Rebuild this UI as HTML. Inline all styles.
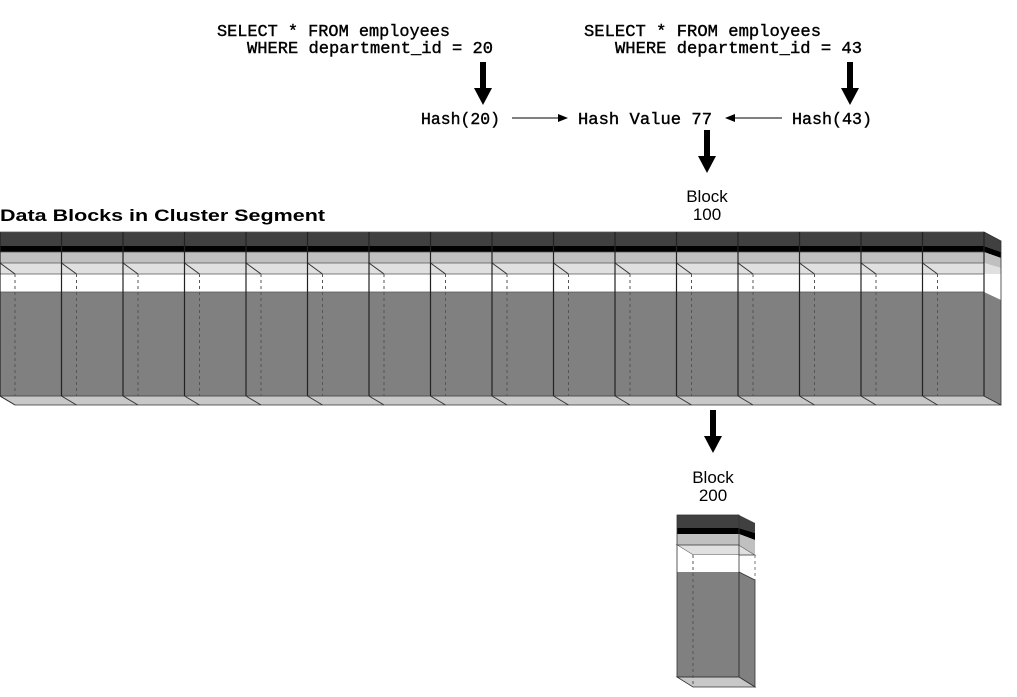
<!DOCTYPE html>
<html><head><meta charset="utf-8"><style>
html,body{margin:0;padding:0;background:#fff;width:1017px;height:697px;overflow:hidden}
svg{display:block}
.m{font-family:"Liberation Mono",monospace;font-size:17px;fill:#000;stroke:#000;stroke-width:0.4}
.s{font-family:"Liberation Sans",sans-serif;font-size:17px;fill:#000}
</style></head><body>
<svg width="1017" height="697" viewBox="0 0 1017 697" xmlns="http://www.w3.org/2000/svg">
<defs>
<marker id="ah" markerWidth="10" markerHeight="8" refX="9" refY="4" orient="auto" markerUnits="userSpaceOnUse"><path d="M0,0 L10,4 L0,8 z" fill="#000"/></marker>
<g id="col">
  <line x1="0" y1="263" x2="15" y2="274" stroke="#333" stroke-width="1"/>
  <line x1="15" y1="274" x2="15" y2="396" stroke="#555" stroke-width="1" stroke-dasharray="3,3"/>
  <line x1="0" y1="396" x2="15" y2="405" stroke="#333" stroke-width="1"/>
  <line x1="0" y1="232" x2="0" y2="396" stroke="#222" stroke-width="1.2"/>
</g>
</defs>

<text class="m" x="217" y="36" textLength="233" lengthAdjust="spacingAndGlyphs">SELECT * FROM employees</text>
<text class="m" x="247" y="53" textLength="246" lengthAdjust="spacingAndGlyphs">WHERE department_id = 20</text>
<text class="m" x="584" y="36" textLength="237" lengthAdjust="spacingAndGlyphs">SELECT * FROM employees</text>
<text class="m" x="615" y="53" textLength="247" lengthAdjust="spacingAndGlyphs">WHERE department_id = 43</text>

<g fill="#000">
<rect x="480" y="62" width="6" height="28"/><path d="M474,88 L492,88 L483,105 z"/>
<rect x="847" y="62" width="6" height="28"/><path d="M841,88 L859,88 L850,105 z"/>
<rect x="704" y="130" width="6" height="28"/><path d="M698,156 L716,156 L707,173 z"/>
<rect x="710" y="410" width="6" height="28"/><path d="M704,436 L722,436 L713,453 z"/>
</g>

<text class="m" x="421" y="124" textLength="79" lengthAdjust="spacingAndGlyphs">Hash(20)</text>
<text class="m" x="578" y="124" textLength="134" lengthAdjust="spacingAndGlyphs">Hash Value 77</text>
<text class="m" x="792" y="124" textLength="80" lengthAdjust="spacingAndGlyphs">Hash(43)</text>
<line x1="512" y1="118" x2="567" y2="118" stroke="#000" stroke-width="1" marker-end="url(#ah)"/>
<line x1="782" y1="118" x2="726" y2="118" stroke="#000" stroke-width="1" marker-end="url(#ah)"/>

<text class="s" x="707" y="202" text-anchor="middle">Block</text>
<text class="s" x="707" y="220" text-anchor="middle">100</text>
<text class="s" x="713" y="483" text-anchor="middle">Block</text>
<text class="s" x="713" y="501" text-anchor="middle">200</text>
<text class="s" x="0" y="221" font-weight="bold" font-size="19" textLength="325" lengthAdjust="spacingAndGlyphs">Data Blocks in Cluster Segment</text>

<rect x="0" y="232" width="984" height="14" fill="#404040"/>
<rect x="0" y="246" width="984" height="6" fill="#000"/>
<rect x="0" y="252" width="984" height="11" fill="#c0c0c0"/>
<rect x="0" y="263" width="984" height="11" fill="#e0e0e0"/>
<rect x="0" y="274" width="984" height="18" fill="#fff"/>
<rect x="0" y="292" width="984" height="104" fill="#808080"/>
<polygon points="0,396 984,396 1001,405 15,405" fill="#c8c8c8" stroke="#333" stroke-width="0.8"/>
<polygon points="984,232 1001,241 1001,252 984,246" fill="#404040"/>
<polygon points="984,246 1001,252 1001,258 984,252" fill="#000"/>
<polygon points="984,252 1001,258 1001,268 984,263" fill="#c0c0c0"/>
<polygon points="984,263 1001,268 1001,274 984,274" fill="#e0e0e0"/>
<polygon points="984,274 1001,274 1001,300 984,292" fill="#fff"/>
<polygon points="984,292 1001,300 1001,405 984,396" fill="#808080"/>
<polygon points="984,232 1001,241 1001,405 984,396" fill="none" stroke="#333" stroke-width="0.8"/>
<g stroke="#555" stroke-width="0.7">
<line x1="0" y1="232" x2="984" y2="232"/><line x1="0" y1="252" x2="984" y2="252"/>
<line x1="0" y1="263" x2="984" y2="263"/><line x1="0" y1="274" x2="984" y2="274"/>
<line x1="0" y1="292" x2="984" y2="292"/><line x1="0" y1="396" x2="984" y2="396"/>
</g>
<use href="#col" x="0"/><use href="#col" x="61.5"/><use href="#col" x="123"/><use href="#col" x="184.5"/>
<use href="#col" x="246"/><use href="#col" x="307.5"/><use href="#col" x="369"/><use href="#col" x="430.5"/>
<use href="#col" x="492"/><use href="#col" x="553.5"/><use href="#col" x="615"/><use href="#col" x="676.5"/>
<use href="#col" x="738"/><use href="#col" x="799.5"/><use href="#col" x="861"/><use href="#col" x="922.5"/>
<line x1="984" y1="232" x2="984" y2="396" stroke="#222" stroke-width="1.2"/>

<rect x="677" y="515" width="62" height="13" fill="#404040"/>
<rect x="677" y="528" width="62" height="6" fill="#000"/>
<rect x="677" y="534" width="62" height="11" fill="#c0c0c0"/>
<polygon points="677,545 739,545 755,555 693,555" fill="#e0e0e0" stroke="#333" stroke-width="0.8"/>
<rect x="677" y="555" width="62" height="17" fill="#fff"/>
<polygon points="677,545 693,555 677,555" fill="#fff"/>
<rect x="677" y="572" width="62" height="105" fill="#808080"/>
<polygon points="739,515 755,523 755,533 739,528" fill="#404040"/>
<polygon points="739,528 755,533 755,540 739,534" fill="#000"/>
<polygon points="739,534 755,540 755,555 739,545" fill="#c0c0c0"/>
<polygon points="739,572 755,580 755,687 739,677" fill="#808080" stroke="#333" stroke-width="0.8"/>
<polygon points="677,677 739,677 755,687 693,687" fill="#c8c8c8" stroke="#333" stroke-width="0.8"/>
<rect x="677" y="515" width="62" height="162" fill="none" stroke="#333" stroke-width="0.8"/>
<line x1="693" y1="555" x2="693" y2="687" stroke="#555" stroke-dasharray="3,3"/>
<line x1="755" y1="555" x2="755" y2="580" stroke="#777" stroke-dasharray="3,3"/>
</svg>
</body></html>
